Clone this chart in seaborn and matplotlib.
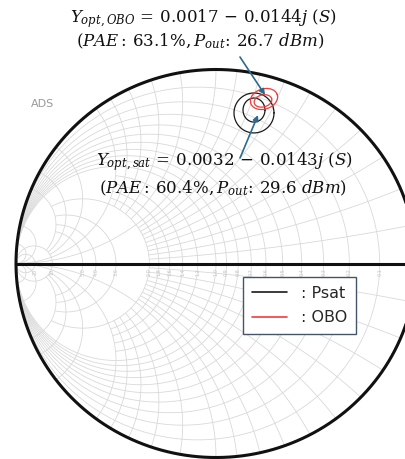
import numpy as np
import pandas as pd
import matplotlib
matplotlib.use("Agg")
import matplotlib.pyplot as plt
from matplotlib.lines import Line2D
import seaborn as sns

# ---------------- data ----------------
# load-pull contours, given in the reflection-coefficient plane
ring_series = ["Psat", "Psat", "OBO", "OBO"]
ring_id = [0, 1, 2, 3]
ring_center_re = [0.190, 0.190, 0.240, 0.235]
ring_center_im = [0.776, 0.791, 0.848, 0.838]
ring_radius_re = [0.100, 0.055, 0.070, 0.045]
ring_radius_im = [0.103, 0.062, 0.052, 0.031]
ring_tilt_deg = [0, 0, 20, 15]

# optimum points (arrow targets) in the reflection-coefficient plane
opt_names = ["OBO", "sat"]
opt_gamma_re = [0.245, 0.210]
opt_gamma_im = [0.869, 0.765]

# annotation texts
label_obo_1 = r"$Y_{opt,OBO}\,=\,0.0017\,-\,0.0144j\ (S)$"
label_obo_2 = r"$(PAE{:}\,63.1\%,P_{out}\!{:}\,26.7\ dBm)$"
label_sat_1 = r"$Y_{opt,sat}\,=\,0.0032\,-\,0.0143j\ (S)$"
label_sat_2 = r"$(PAE{:}\,60.4\%,P_{out}\!{:}\,29.6\ dBm)$"
legend_labels = [": Psat", ": OBO"]
series_colors = {"Psat": "#1a1a1a", "OBO": "#f03c3c"}

# Smith (admittance) chart grid values
g_values = [0.1, 0.2, 0.3, 0.4, 0.5, 0.6, 0.7, 0.8, 0.9, 1.0, 1.2, 1.4, 1.6, 1.8, 2.0, 3.0, 4.0, 5.0, 10.0, 20.0]
b_values = [0.1, 0.2, 0.3, 0.4, 0.5, 0.6, 0.7, 0.8, 0.9, 1.0, 1.2, 1.4, 1.6, 1.8, 2.0, 3.0, 4.0, 5.0, 10.0, 20.0]
axis_label_values = ["0.1", "0.2", "0.3", "0.4", "0.5", "0.6", "0.7", "0.8", "0.9", "1.0", "1.2", "1.4", "1.6", "1.8", "2.0", "3.0", "4.0", "5.0", "10", "20"]

# ---------------- figure ----------------
W, H = 406, 459
sns.set_theme(style="white")
plt.rcParams["mathtext.fontset"] = "dejavuserif"
plt.rcParams["font.family"] = ["DejaVu Sans"]

fig = plt.figure(figsize=(W / 100, H / 100), dpi=100)
ax = fig.add_axes([0, 0, 1, 1])
ax.set_axis_off()

cx, cy, Rh, Rv = 216.0, 263.5, 200.0, 194.0
ax.set_xlim(-cx / Rh, (W - cx) / Rh)
ax.set_ylim(-(H - cy) / Rv, cy / Rv)


def px(x, y):
    return x / W, 1 - y / H


def gamma(yv):
    return (1 - yv) / (1 + yv)


grid_kw = dict(color="#d9d9d9", lw=0.6, zorder=1, solid_capstyle="butt")


def g_bmax(g):
    if g <= 1.0:
        return 1e6
    if g < 2.0:
        return 2.0
    if g <= 5.0:
        return 5.0
    return 1e6


def b_gmax(b):
    if b < 1.0:
        return 2.0
    if b in (1.0, 2.0):
        return 1e6
    if b < 2.0:
        return 2.0
    if b <= 5.0:
        return 10.0
    return 1e6


for g in g_values:
    a = np.arctan(g_bmax(g))
    bb = np.tan(np.linspace(-a, a, 1200))
    G = gamma(g + 1j * bb)
    ax.plot(G.real, G.imag, **grid_kw)

for b in b_values:
    a = np.arctan(b_gmax(b))
    gg = np.tan(np.linspace(0, a, 800))
    for s in (1, -1):
        G = gamma(gg + 1j * s * b)
        ax.plot(G.real, G.imag, **grid_kw)

# tiny gray labels along the real axis
for txt, g in zip(axis_label_values, g_values):
    G = gamma(g)
    ax.text(G.real, -0.025, txt, fontsize=3.5, color="#c4c4c4", rotation=90,
            ha="center", va="top", zorder=2)

# outer circle and real axis
t = np.linspace(0, 2 * np.pi, 800)
ax.plot(np.cos(t), np.sin(t), color="#111111", lw=2.2, zorder=3)
ax.plot([-1, 1.2], [0, 0], color="#111111", lw=2.2, zorder=3)

# contours via seaborn
rows = []
tt = np.linspace(0, 2 * np.pi, 200)
for s, rid, cu, cv, ru, rv, tilt in zip(ring_series, ring_id, ring_center_re, ring_center_im,
                                        ring_radius_re, ring_radius_im, ring_tilt_deg):
    th = np.deg2rad(tilt)
    xe = ru * np.cos(tt)
    ye = rv * np.sin(tt)
    xr = cu + xe * np.cos(th) - ye * np.sin(th)
    yr = cv + xe * np.sin(th) + ye * np.cos(th)
    for i, (a_, b_) in enumerate(zip(xr, yr)):
        rows.append({"series": s, "ring": rid, "order": i, "re": a_, "im": b_})
df = pd.DataFrame(rows)
sns.lineplot(data=df, x="re", y="im", hue="series", units="ring", estimator=None, sort=False,
             palette=series_colors, lw=0.9, ax=ax, legend=False, zorder=4)

# arrows
arrow_color = "#2a6b8f"
tails = [px(240, 57), px(240, 158)]
for (tx, ty), gx, gy in zip(tails, opt_gamma_re, opt_gamma_im):
    ax.annotate("", xy=(gx, gy), xycoords="data", xytext=(tx, ty), textcoords="figure fraction",
                arrowprops=dict(arrowstyle="-|>", color=arrow_color, lw=1.2,
                                mutation_scale=8, shrinkA=0, shrinkB=0), zorder=5)

# texts
fs = 12
fig.text(*px(203, 19), label_obo_1, ha="center", va="center", fontsize=fs, color="#111111")
fig.text(*px(200, 41), label_obo_2, ha="center", va="center", fontsize=fs, color="#111111")
fig.text(*px(224, 162), label_sat_1, ha="center", va="center", fontsize=fs, color="#111111")
fig.text(*px(223, 188), label_sat_2, ha="center", va="center", fontsize=fs, color="#111111")
fig.text(*px(43, 104), "ADS", ha="center", va="center", fontsize=8, color="#9a9a9a")

# legend
handles = [Line2D([0], [0], color=series_colors["Psat"], lw=1.2),
           Line2D([0], [0], color=series_colors["OBO"], lw=1.2)]
leg = ax.legend(handles, legend_labels, loc="upper left", bbox_to_anchor=px(243, 277),
                bbox_transform=fig.transFigure, borderaxespad=0, fontsize=11.5,
                handlelength=2.2, handletextpad=0.9, labelspacing=0.6, borderpad=0.55,
                frameon=True, fancybox=False, framealpha=1)
leg.get_frame().set_edgecolor("#44546a")
leg.get_frame().set_linewidth(1.0)
leg.set_zorder(6)

fig.savefig("out.png", dpi=100)
